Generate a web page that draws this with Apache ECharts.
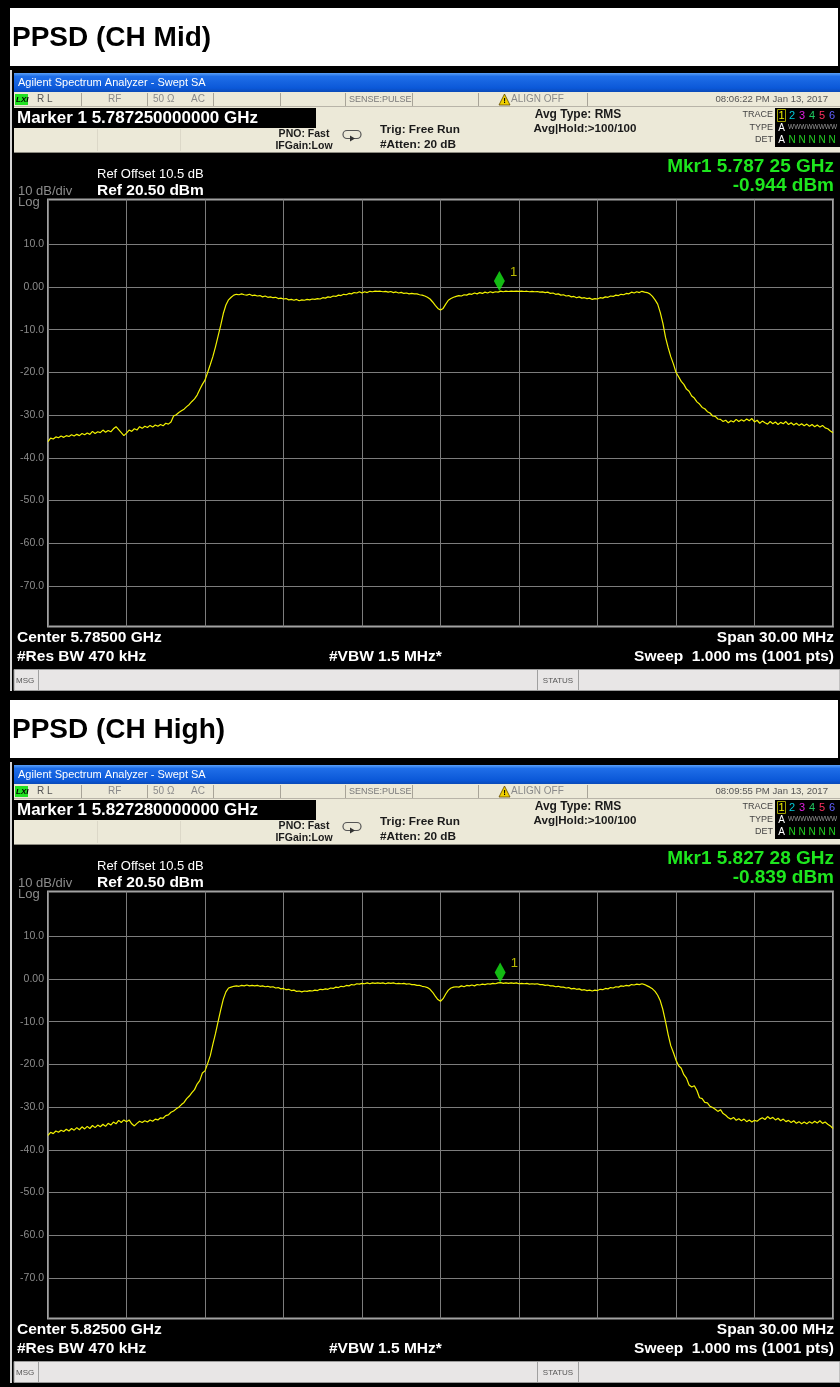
<!DOCTYPE html>
<html>
<head>
<meta charset="utf-8">
<script src="https://cdn.jsdelivr.net/npm/echarts@6.0.0/dist/echarts.min.js"></script>
<style>
  html, body { margin: 0; padding: 0; background: #000; }
  #chart { width: 840px; height: 1387px; }
</style>
</head>
<body>
<div id="chart"></div>
<script>
// ---------------- DATA ----------------
const TITLES = ['PPSD (CH Mid)', 'PPSD (CH High)'];
const CENTER_GHZ = [5.785, 5.825];
const CENTER_TEXT = ['5.78500 GHz', '5.82500 GHz'];
const MARKER_GHZ = [5.78725, 5.82728];
const MARKER_TEXT = ['5.787250000000 GHz', '5.827280000000 GHz'];
const MKR_READOUT = ['5.787 25 GHz', '5.827 28 GHz'];
const MARKER_DBM = [-0.944, -0.839];
const TIMESTAMPS = ['08:06:22 PM Jan 13, 2017', '08:09:55 PM Jan 13, 2017'];
const SPAN_MHZ = 30;
const SWEEP_START_MHZ = -15;   // offset from center
const SWEEP_STEP_MHZ = 0.1;
const REF_DBM = 20.5;
const DB_PER_DIV = 10;
const Y_TICKS = [10, 0, -10, -20, -30, -40, -50, -60, -70];

const MID_DBM = [
  -36.2,-35.4,-35.6,-35.1,-35.3,-34.9,-35.2,-34.8,-35.0,-34.6,
  -34.9,-34.5,-34.8,-34.3,-34.6,-34.2,-34.5,-33.8,-34.3,-33.9,
  -34.1,-33.5,-34.0,-33.6,-33.9,-33.2,-32.7,-33.4,-34.1,-34.8,
  -34.2,-33.5,-33.8,-33.2,-33.5,-32.7,-33.1,-32.6,-32.9,-32.4,
  -32.8,-32.3,-32.6,-32.2,-32.5,-31.9,-32.1,-31.6,-30.2,-29.9,
  -29.4,-29.0,-28.6,-28.0,-27.5,-26.8,-26.2,-25.3,-24.0,-22.8,
  -21.8,-20.0,-18.2,-16.3,-14.0,-11.5,-9.0,-6.2,-4.2,-3.0,
  -2.4,-1.9,-1.7,-1.8,-1.6,-1.8,-1.9,-1.7,-2.0,-1.9,
  -2.1,-2.0,-2.3,-2.1,-2.4,-2.3,-2.5,-2.4,-2.7,-2.6,
  -2.8,-2.7,-3.0,-2.9,-3.1,-2.9,-3.2,-3.0,-3.1,-2.9,
  -3.0,-2.8,-2.9,-2.7,-2.8,-2.5,-2.6,-2.3,-2.4,-2.1,
  -2.2,-1.9,-2.0,-1.7,-1.8,-1.5,-1.6,-1.3,-1.4,-1.1,
  -1.4,-1.1,-1.3,-1.0,-1.1,-0.96,-1.0,-0.98,-1.1,-1.0,
  -1.2,-1.05,-1.3,-1.15,-1.4,-1.25,-1.5,-1.4,-1.6,-1.5,
  -1.6,-1.6,-1.8,-1.9,-2.1,-2.4,-2.8,-3.5,-4.3,-5.0,
  -5.4,-5.0,-4.0,-3.1,-2.7,-2.4,-2.2,-2.0,-2.1,-1.8,
  -1.9,-1.6,-1.7,-1.4,-1.6,-1.3,-1.5,-1.2,-1.4,-1.1,
  -1.3,-1.1,-1.2,-0.95,-1.1,-0.96,-1.05,-0.97,-1.0,-0.96,
  -1.0,-0.97,-1.05,-0.98,-1.1,-1.0,-1.1,-1.05,-1.2,-1.15,
  -1.3,-1.2,-1.5,-1.4,-1.7,-1.6,-1.9,-1.8,-2.1,-2.0,
  -2.3,-2.2,-2.5,-2.3,-2.6,-2.5,-2.7,-2.6,-2.9,-2.7,
  -2.8,-2.5,-2.6,-2.3,-2.4,-2.1,-2.2,-1.9,-2.0,-1.7,
  -1.8,-1.5,-1.6,-1.2,-1.4,-1.1,-1.3,-1.0,-1.2,-1.3,
  -1.6,-2.2,-3.0,-4.0,-6.0,-8.5,-11.8,-14.2,-16.3,-18.0,
  -20.0,-21.0,-22.1,-22.8,-23.9,-24.4,-25.5,-26.0,-26.9,-27.4,
  -28.2,-28.5,-29.2,-29.5,-30.2,-30.3,-30.9,-31.0,-31.5,-31.2,
  -31.8,-31.3,-31.6,-31.0,-31.5,-31.1,-31.4,-30.9,-31.3,-30.8,
  -31.6,-31.2,-31.9,-31.4,-31.8,-32.1,-31.5,-32.0,-31.6,-32.2,
  -31.7,-32.0,-31.5,-32.2,-31.8,-32.3,-31.9,-32.4,-32.0,-32.5,
  -32.1,-32.6,-32.2,-32.7,-32.3,-32.8,-32.4,-33.0,-33.2,-33.7,
  -34.1
];

const HIGH_DBM = [
  -36.6,-35.9,-36.2,-35.6,-35.9,-35.4,-35.7,-35.2,-35.6,-35.0,
  -35.4,-34.8,-35.3,-34.6,-35.1,-34.5,-35.0,-34.3,-34.8,-34.2,
  -34.6,-34.0,-34.5,-33.8,-34.2,-33.5,-33.9,-33.1,-33.6,-33.0,
  -33.4,-33.0,-33.9,-34.4,-33.8,-33.3,-33.6,-33.2,-33.5,-33.0,
  -33.3,-32.8,-33.0,-32.5,-32.6,-32.0,-31.8,-31.2,-30.9,-30.4,
  -30.0,-29.4,-28.9,-28.0,-27.4,-26.6,-25.9,-24.6,-23.8,-22.0,
  -21.5,-19.8,-18.0,-15.3,-12.8,-10.0,-7.2,-4.7,-3.0,-2.1,
  -1.9,-1.7,-1.6,-1.7,-1.5,-1.6,-1.4,-1.6,-1.5,-1.6,
  -1.5,-1.7,-1.6,-1.8,-1.7,-1.9,-1.8,-2.1,-2.0,-2.3,
  -2.2,-2.5,-2.4,-2.7,-2.6,-2.9,-2.8,-3.0,-2.8,-2.9,
  -2.7,-2.8,-2.6,-2.7,-2.4,-2.5,-2.3,-2.4,-2.1,-2.2,
  -1.9,-2.0,-1.7,-1.8,-1.5,-1.6,-1.3,-1.4,-1.1,-1.2,
  -1.0,-1.1,-0.9,-1.1,-0.9,-1.0,-0.9,-1.0,-0.9,-1.1,
  -0.9,-1.0,-0.9,-1.1,-1.0,-1.1,-1.0,-1.2,-1.1,-1.3,
  -1.3,-1.5,-1.5,-1.7,-1.8,-2.0,-2.4,-3.1,-4.0,-4.8,
  -5.2,-4.6,-3.5,-2.6,-2.1,-1.9,-1.8,-1.9,-1.6,-1.8,
  -1.5,-1.6,-1.4,-1.6,-1.3,-1.4,-1.2,-1.3,-1.1,-1.2,
  -1.0,-1.1,-0.9,-0.84,-1.0,-0.9,-1.0,-0.9,-1.0,-0.9,
  -1.1,-1.0,-1.1,-1.0,-1.2,-1.1,-1.2,-1.1,-1.3,-1.3,
  -1.5,-1.4,-1.6,-1.6,-1.8,-1.7,-1.9,-1.9,-2.1,-2.0,
  -2.3,-2.2,-2.4,-2.3,-2.6,-2.5,-2.7,-2.6,-2.8,-2.6,
  -2.7,-2.4,-2.5,-2.2,-2.3,-2.0,-2.1,-1.8,-1.9,-1.6,
  -1.7,-1.5,-1.6,-1.3,-1.4,-1.2,-1.3,-1.1,-1.3,-1.6,
  -1.9,-2.3,-2.9,-3.8,-5.1,-7.2,-10.0,-13.0,-15.6,-17.2,
  -19.0,-20.3,-20.9,-22.4,-23.2,-24.8,-25.3,-25.0,-26.1,-27.8,
  -28.0,-28.9,-29.0,-29.8,-30.1,-30.5,-31.0,-30.6,-31.5,-31.9,
  -32.5,-32.8,-32.4,-33.1,-32.7,-33.2,-32.8,-33.4,-33.0,-33.5,
  -33.1,-33.3,-32.8,-32.5,-32.9,-32.2,-32.7,-32.4,-33.0,-32.6,
  -33.2,-32.8,-33.4,-33.1,-33.6,-33.2,-33.8,-33.4,-33.9,-33.5,
  -33.9,-33.4,-33.8,-33.3,-33.7,-33.2,-33.8,-33.5,-34.0,-34.4,
  -35.0
];

const TRACES = [MID_DBM, HIGH_DBM];

// ---------------- RENDER ----------------
const FONT = '"Liberation Sans", Arial, Helvetica, sans-serif';
const PANEL_H = 692;

function T(x, y, s, size, fill, weight, align, extra) {
  const st = Object.assign({
    text: s, fill: fill, fontSize: size, fontWeight: weight || 'normal',
    fontFamily: FONT, align: align || 'left', verticalAlign: 'middle',
    textAlign: align || 'left', textVerticalAlign: 'middle'
  }, extra || {});
  return { type: 'text', x: x, y: y, silent: true, z: 20, style: st };
}
function R(x, y, w, h, fill, stroke, lw, r) {
  const sh = { x: x, y: y, width: w, height: h };
  if (r) sh.r = r;
  return { type: 'rect', silent: true, z: 10, shape: sh,
    style: { fill: fill || 'none', stroke: stroke || null, lineWidth: lw || 0 } };
}
function L(x1, y1, x2, y2, stroke, lw) {
  return { type: 'line', silent: true, z: 12,
    shape: { x1: x1, y1: y1, x2: x2, y2: y2 },
    style: { stroke: stroke, lineWidth: lw || 1 } };
}

function panelGraphics(k) {
  const oy = k * PANEL_H;
  const g = [];
  // white title strip
  g.push(R(10, oy + 8, 828, 58, '#ffffff'));
  g.push(T(12, oy + 38, TITLES[k], 28, '#000000', 'bold'));
  // screenshot left frame line
  g.push(R(10, oy + 70, 2, 621, '#d6d6d6'));
  // window title bar
  g.push({ type: 'rect', silent: true, z: 10,
    shape: { x: 14, y: oy + 73, width: 826, height: 19 },
    style: { fill: new echarts.graphic.LinearGradient(0, 0, 0, 1, [
      { offset: 0, color: '#5aa0f8' }, { offset: 0.18, color: '#1f6ee8' },
      { offset: 0.8, color: '#0b58d8' }, { offset: 1, color: '#0a4ab8' }]) } });
  g.push(T(18, oy + 83, 'Agilent Spectrum Analyzer - Swept SA', 11, '#ffffff'));
  // status row 1
  g.push(R(14, oy + 92, 826, 15, '#ece9d8'));
  [81, 147, 213, 280, 345, 412, 478, 587].forEach(function (x) {
    g.push(L(x + 0.5, oy + 93, x + 0.5, oy + 106, '#a8a498', 1));
  });
  g.push(L(14, oy + 106.5, 840, oy + 106.5, '#b8b4a8', 1));
  g.push(R(15, oy + 94, 13, 11, '#22e022'));
  g.push(T(16, oy + 99.5, 'LXI', 8, '#000000', 'bold', 'left', { fontStyle: 'italic' }));
  g.push(T(37, oy + 99.5, 'R L', 10, '#555555'));
  g.push(T(108, oy + 99.5, 'RF', 10, '#8a8a8a'));
  g.push(T(153, oy + 99.5, '50 Ω', 10, '#8a8a8a'));
  g.push(T(191, oy + 99.5, 'AC', 10, '#8a8a8a'));
  g.push(T(349, oy + 99.5, 'SENSE:PULSE', 9, '#7a7a7a'));
  g.push({ type: 'polygon', silent: true, z: 15,
    shape: { points: [[504.5, oy + 94], [499, oy + 105], [510, oy + 105]] },
    style: { fill: '#f0d000', stroke: '#604800', lineWidth: 0.8 } });
  g.push(T(504.5, oy + 101, '!', 8, '#000000', 'bold', 'center'));
  g.push(T(511, oy + 99.5, 'ALIGN OFF', 10, '#8a8a8a'));
  g.push(T(828, oy + 99.5, TIMESTAMPS[k], 9.6, '#555555', 'normal', 'right'));
  // row 2 info area
  g.push(R(14, oy + 107, 826, 46, '#ece9d8'));
  g.push(L(14, oy + 152.5, 840, oy + 152.5, '#8c8a80', 1));
  g.push(L(97.5, oy + 129, 97.5, oy + 151, '#dcd8c8', 1));
  g.push(L(180.5, oy + 129, 180.5, oy + 151, '#dcd8c8', 1));
  g.push(R(14, oy + 108, 302, 20, '#000000'));
  g.push(T(17, oy + 118, 'Marker 1 ' + MARKER_TEXT[k], 17, '#ffffff', 'bold'));
  g.push(T(304, oy + 134, 'PNO: Fast', 10.5, '#1a1a1a', 'bold', 'center'));
  g.push(T(304, oy + 146, 'IFGain:Low', 10.5, '#1a1a1a', 'bold', 'center'));
  g.push(R(343, oy + 130.5, 18, 8, 'none', '#555555', 1.2, 4));
  g.push({ type: 'polygon', silent: true, z: 15,
    shape: { points: [[350, oy + 135.5], [355, oy + 138.5], [350, oy + 141.5]] },
    style: { fill: '#333333' } });
  g.push(T(380, oy + 130, 'Trig: Free Run', 11.8, '#1a1a1a', 'bold'));
  g.push(T(380, oy + 145, '#Atten: 20 dB', 11.8, '#1a1a1a', 'bold'));
  g.push(T(578, oy + 115, 'Avg Type: RMS', 12, '#1a1a1a', 'bold', 'center'));
  g.push(T(585, oy + 129, 'Avg|Hold:>100/100', 11.6, '#1a1a1a', 'bold', 'center'));
  // trace status box
  g.push(T(773, oy + 115, 'TRACE', 9, '#444444', 'normal', 'right'));
  g.push(T(773, oy + 128, 'TYPE', 9, '#444444', 'normal', 'right'));
  g.push(T(773, oy + 140, 'DET', 9, '#444444', 'normal', 'right'));
  g.push(R(775, oy + 108, 65, 39, '#000000'));
  g.push(R(777.5, oy + 109.5, 8, 12, 'none', '#a0a000', 1));
  const tc = ['#f0f000', '#00c8d8', '#e020e0', '#20c860', '#ff3060', '#6060ff'];
  const tx = [781.5, 792, 802, 812, 822, 832];
  tc.forEach(function (c, i) { g.push(T(tx[i], oy + 115.5, String(i + 1), 11, c, 'normal', 'center')); });
  g.push(T(781.5, oy + 128, 'A', 10, '#ffffff', 'normal', 'center'));
  g.push(T(788, oy + 127.5, 'WWWWWWWW', 6.5, '#9a9a9a', 'normal', 'left'));
  g.push(T(781.5, oy + 140, 'A', 10, '#ffffff', 'normal', 'center'));
  for (let i = 1; i < 6; i++) g.push(T(tx[i], oy + 140, 'N', 10, '#22d022', 'normal', 'center'));
  // plot-area annotations
  g.push(T(97, oy + 174.5, 'Ref Offset 10.5 dB', 13, '#ffffff'));
  g.push(T(97, oy + 190.5, 'Ref ' + REF_DBM.toFixed(2) + ' dBm', 15.5, '#ffffff', 'bold'));
  g.push(T(18, oy + 191, DB_PER_DIV + ' dB/div', 13, '#8c8c8c'));
  g.push(T(18, oy + 202, 'Log', 13, '#8c8c8c'));
  g.push(T(834, oy + 167, 'Mkr1 ' + MKR_READOUT[k], 19, '#1ee61e', 'bold', 'right'));
  g.push(T(834, oy + 186, MARKER_DBM[k].toFixed(3) + ' dBm', 19, '#1ee61e', 'bold', 'right'));
  g.push(T(17, oy + 637.5, 'Center ' + CENTER_TEXT[k], 15.5, '#ffffff', 'bold'));
  g.push(T(17, oy + 656.5, '#Res BW 470 kHz', 15.5, '#ffffff', 'bold'));
  g.push(T(329, oy + 656.5, '#VBW 1.5 MHz*', 15.5, '#ffffff', 'bold'));
  g.push(T(834, oy + 637.5, 'Span ' + SPAN_MHZ.toFixed(2) + ' MHz', 15.5, '#ffffff', 'bold', 'right'));
  g.push(T(834, oy + 656.5, 'Sweep  1.000 ms (1001 pts)', 15.5, '#ffffff', 'bold', 'right'));
  // bottom status bar
  g.push(R(14, oy + 669.5, 826, 21, '#e8e6e6', '#9a9a9a', 1));
  g.push(L(38.5, oy + 670, 38.5, oy + 690, '#a0a0a0', 1));
  g.push(L(537.5, oy + 670, 537.5, oy + 690, '#a0a0a0', 1));
  g.push(L(578.5, oy + 670, 578.5, oy + 690, '#a0a0a0', 1));
  g.push(T(16, oy + 680.5, 'MSG', 8, '#555555'));
  g.push(T(558, oy + 680.5, 'STATUS', 8, '#555555', 'normal', 'center'));
  return g;
}

const chart = echarts.init(document.getElementById('chart'), null,
  { renderer: 'canvas', width: 840, height: 1387 });

const grids = [], xAxes = [], yAxes = [], series = [];
const fmtY = function (v) { return v === 0 ? '0.00' : v.toFixed(1); };
for (let k = 0; k < 2; k++) {
  const oy = k * PANEL_H;
  grids.push({ left: 48, top: oy + 199.5, width: 785, height: 427, show: true,
    borderColor: '#a2a2a2', borderWidth: 2, backgroundColor: 'transparent' });
  xAxes.push({ type: 'value', gridIndex: k, min: -SPAN_MHZ / 2, max: SPAN_MHZ / 2,
    interval: SPAN_MHZ / 10,
    axisLine: { show: false }, axisTick: { show: false }, axisLabel: { show: false },
    splitLine: { show: true, lineStyle: { color: '#7c7c7c', width: 1 } } });
  yAxes.push({ type: 'value', gridIndex: k, min: REF_DBM - 10 * DB_PER_DIV, max: REF_DBM,
    axisLine: { show: false },
    axisTick: { show: false, customValues: Y_TICKS },
    axisLabel: { show: true, customValues: Y_TICKS, formatter: fmtY, color: '#8c8c8c',
      fontSize: 10.5, fontFamily: FONT, margin: 4 },
    splitLine: { show: true, lineStyle: { color: '#7c7c7c', width: 1 } } });
  const pts = TRACES[k].map(function (v, i) {
    return [Math.round((SWEEP_START_MHZ + SWEEP_STEP_MHZ * i) * 100) / 100, v];
  });
  series.push({ type: 'line', xAxisIndex: k, yAxisIndex: k, data: pts, symbol: 'none',
    showSymbol: false, animation: false, z: 3,
    lineStyle: { color: '#f2f200', width: 1.2 } });
  const mkOff = Math.round((MARKER_GHZ[k] - CENTER_GHZ[k]) * 1e5) / 100;
  series.push({ type: 'scatter', xAxisIndex: k, yAxisIndex: k,
    data: [[mkOff, MARKER_DBM[k]]], symbol: 'diamond', symbolSize: [11, 20],
    symbolOffset: [0, '-50%'], animation: false, z: 5,
    itemStyle: { color: '#18e818' },
    label: { show: true, formatter: '1', position: 'right', offset: [0, -9],
      color: '#e6e600', fontSize: 13, fontFamily: FONT } });
}

chart.setOption({
  backgroundColor: '#000000',
  animation: false,
  grid: grids, xAxis: xAxes, yAxis: yAxes, series: series,
  graphic: { elements: panelGraphics(0).concat(panelGraphics(1)) }
});
</script>
</body>
</html>
